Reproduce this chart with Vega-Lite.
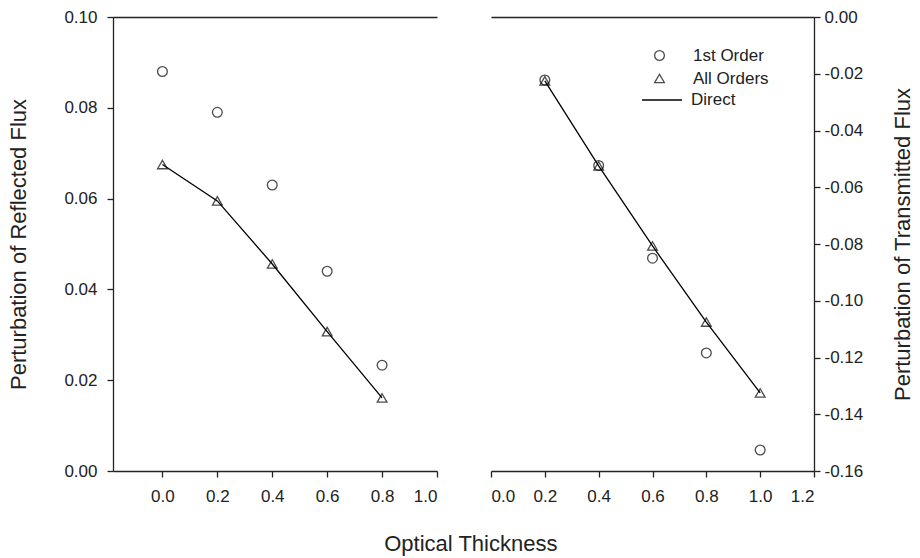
{
  "$schema": "https://vega.github.io/schema/vega-lite/v6.json",
  "background": "white",
  "padding": {"left": 7, "top": 8, "right": 5, "bottom": 5},
  "config": {
    "font": "Liberation Sans",
    "view": {"stroke": null},
    "axis": {
      "labelFont": "Liberation Sans", "labelFontSize": 17, "labelColor": "#222",
      "titleFont": "Liberation Sans", "titleFontSize": 22, "titleFontWeight": "normal", "titleColor": "#222",
      "domainColor": "#222", "domainWidth": 1.3, "tickColor": "#222", "tickWidth": 1.3, "tickSize": 6,
      "grid": false, "labelPadding": 4
    },
    "legend": {"labelFont": "Liberation Sans", "labelFontSize": 17, "labelColor": "#222"}
  },
  "title": {"text": "Optical Thickness", "orient": "bottom", "anchor": "middle", "frame": "bounds", "font": "Liberation Sans", "fontSize": 22, "fontWeight": "normal", "color": "#222", "offset": 30, "dx": 10},
  "datasets": {
    "reflected": [
      {"x": 0.0, "y": 0.0880, "series": "1st Order"},
      {"x": 0.2, "y": 0.0790, "series": "1st Order"},
      {"x": 0.4, "y": 0.0630, "series": "1st Order"},
      {"x": 0.6, "y": 0.0440, "series": "1st Order"},
      {"x": 0.8, "y": 0.0233, "series": "1st Order"},
      {"x": 0.0, "y": 0.0675, "series": "All Orders"},
      {"x": 0.2, "y": 0.0595, "series": "All Orders"},
      {"x": 0.4, "y": 0.0456, "series": "All Orders"},
      {"x": 0.6, "y": 0.0307, "series": "All Orders"},
      {"x": 0.8, "y": 0.0161, "series": "All Orders"},
      {"x": 0.0, "y": 0.0675, "series": "Direct"},
      {"x": 0.2, "y": 0.0595, "series": "Direct"},
      {"x": 0.4, "y": 0.0456, "series": "Direct"},
      {"x": 0.6, "y": 0.0307, "series": "Direct"},
      {"x": 0.8, "y": 0.0161, "series": "Direct"}
    ],
    "transmitted": [
      {"x": 0.2, "y": -0.0222, "series": "1st Order"},
      {"x": 0.4, "y": -0.0523, "series": "1st Order"},
      {"x": 0.6, "y": -0.0850, "series": "1st Order"},
      {"x": 0.8, "y": -0.1184, "series": "1st Order"},
      {"x": 1.0, "y": -0.1526, "series": "1st Order"},
      {"x": 0.2, "y": -0.0225, "series": "All Orders"},
      {"x": 0.4, "y": -0.0525, "series": "All Orders"},
      {"x": 0.6, "y": -0.0807, "series": "All Orders"},
      {"x": 0.8, "y": -0.1075, "series": "All Orders"},
      {"x": 1.0, "y": -0.1325, "series": "All Orders"},
      {"x": 0.2, "y": -0.0225, "series": "Direct"},
      {"x": 0.4, "y": -0.0525, "series": "Direct"},
      {"x": 0.6, "y": -0.0807, "series": "Direct"},
      {"x": 0.8, "y": -0.1075, "series": "Direct"},
      {"x": 1.0, "y": -0.1325, "series": "Direct"}
    ]
  },
  "spacing": 54,
  "bounds": "flush",
  "resolve": {"scale": {"x": "independent", "y": "independent", "shape": "independent", "color": "independent"}},
  "hconcat": [
    {
      "width": 324, "height": 454,
      "data": {"name": "reflected"},
      "resolve": {"axis": {"x": "independent"}},
      "layer": [
        {
          "mark": {"type": "line", "color": "black", "strokeWidth": 1.3},
          "transform": [{"filter": "datum.series === 'Direct'"}],
          "encoding": {
            "x": {"field": "x", "type": "quantitative",
                  "scale": {"domain": [-0.18, 1.0], "nice": false, "zero": false},
                  "axis": {"orient": "bottom", "values": [0, 0.2, 0.4, 0.6, 0.8, 1.0], "format": ".1f", "title": null, "labelPadding": 11}},
            "y": {"field": "y", "type": "quantitative",
                  "scale": {"domain": [0, 0.1], "nice": false},
                  "axis": {"values": [0, 0.02, 0.04, 0.06, 0.08, 0.1], "format": ".2f", "title": "Perturbation of Reflected Flux", "labelPadding": 10, "titlePadding": 33}}
          }
        },
        {
          "mark": {"type": "point", "filled": false, "color": "black", "strokeWidth": 1.3, "size": 95},
          "transform": [{"filter": "datum.series !== 'Direct'"}],
          "encoding": {
            "x": {"field": "x", "type": "quantitative", "axis": null},
            "y": {"field": "y", "type": "quantitative"},
            "shape": {"field": "series", "type": "nominal",
                      "scale": {"domain": ["1st Order", "All Orders"], "range": ["circle", "triangle-up"]},
                      "legend": null}
          }
        },
        {
          "mark": {"type": "point", "opacity": 0},
          "encoding": {
            "x": {"field": "x", "type": "quantitative",
                  "axis": {"orient": "top", "labels": false, "ticks": false, "title": null, "domain": true}},
            "y": {"field": "y", "type": "quantitative"}
          }
        }
      ]
    },
    {
      "width": 323, "height": 454,
      "data": {"name": "transmitted"},
      "resolve": {"axis": {"x": "independent"}},
      "layer": [
        {
          "mark": {"type": "line", "color": "black", "strokeWidth": 1.3},
          "transform": [{"filter": "datum.series === 'Direct'"}],
          "encoding": {
            "x": {"field": "x", "type": "quantitative",
                  "scale": {"domain": [0, 1.2], "nice": false},
                  "axis": {"orient": "bottom", "values": [0, 0.2, 0.4, 0.6, 0.8, 1.0, 1.2], "format": ".1f", "title": null, "labelPadding": 11}},
            "y": {"field": "y", "type": "quantitative",
                  "scale": {"domain": [-0.16, 0], "nice": false},
                  "axis": {"orient": "right", "values": [0, -0.02, -0.04, -0.06, -0.08, -0.1, -0.12, -0.14, -0.16], "format": ".2f",
                           "labelExpr": "replace(datum.label, '\u2212', '-')",
                           "title": "Perturbation of Transmitted Flux", "titleAngle": 270, "titleBaseline": "top", "titlePadding": 30}},
            "color": {"field": "series", "type": "nominal",
                      "scale": {"domain": ["Direct"], "range": ["black"]},
                      "legend": {"title": null, "orient": "none", "legendX": 150, "legendY": 62,
                                 "symbolType": "stroke", "symbolSize": 1600, "symbolStrokeWidth": 1.3,
                                 "symbolStrokeColor": "black", "labelOffset": 8, "labelFontSize": 17}}
          }
        },
        {
          "mark": {"type": "point", "filled": false, "color": "black", "strokeWidth": 1.3, "size": 95},
          "transform": [{"filter": "datum.series !== 'Direct'"}],
          "encoding": {
            "x": {"field": "x", "type": "quantitative", "axis": null},
            "y": {"field": "y", "type": "quantitative"},
            "shape": {"field": "series", "type": "nominal",
                      "scale": {"domain": ["1st Order", "All Orders"], "range": ["circle", "triangle-up"]},
                      "legend": {"title": null, "orient": "none", "legendX": 160, "legendY": 30,
                                 "symbolSize": 95, "symbolStrokeWidth": 1.3, "symbolStrokeColor": "black",
                                 "symbolFillColor": "transparent", "labelOffset": 25, "rowPadding": 5, "labelFontSize": 17}}
          }
        },
        {
          "mark": {"type": "point", "opacity": 0},
          "encoding": {
            "x": {"field": "x", "type": "quantitative",
                  "axis": {"orient": "top", "labels": false, "ticks": false, "title": null, "domain": true}},
            "y": {"field": "y", "type": "quantitative"}
          }
        }
      ]
    }
  ]
}
